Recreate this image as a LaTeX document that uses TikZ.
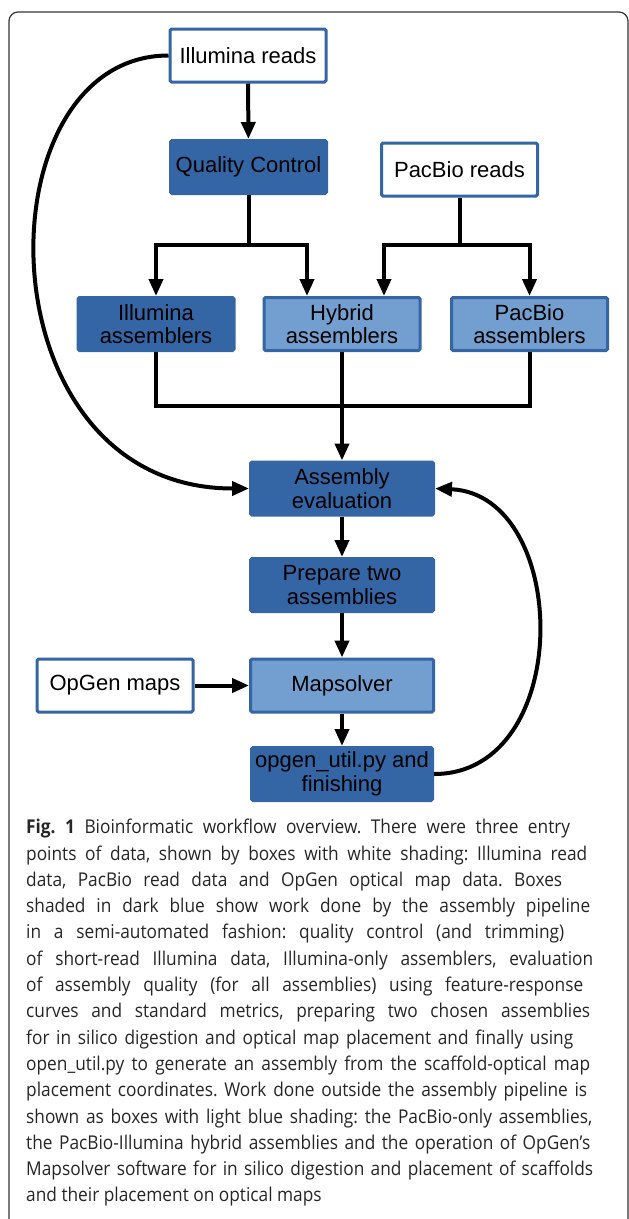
\documentclass[tikz,border=0pt]{standalone}
\usepackage{fontspec}
\setmainfont{Open Sans}[FakeStretch=0.91]
\newfontfamily\boxfont{Liberation Sans}
\usetikzlibrary{arrows.meta}
\definecolor{darkblue}{HTML}{3465A4}
\definecolor{lightblue}{HTML}{729FCF}
\newcommand{\capline}[2]{\makebox[#1pt][s]{#2}\\}
\frenchspacing

\begin{document}
\begin{tikzpicture}[x=1pt, y=-1pt,
    box/.style={rectangle, rounded corners=1.5pt, minimum width=156pt, minimum height=53pt, inner sep=0pt, align=center, font=\boxfont\fontsize{22}{23.5}\selectfont, line width=3pt},
    entry/.style={box, draw=darkblue, fill=white},
    pipe/.style={box, draw=darkblue, fill=darkblue},
    outside/.style={box, draw=darkblue, fill=lightblue},
    link/.style={line width=4pt},
    arr/.style={link, -{Triangle[length=17pt, width=14pt]}}]
        \useasboundingbox (0,0) rectangle (629,1219);
        \clip (0,0) rectangle (629,1219);

        % Frame
        \draw[line width=1.2pt, black!80, rounded corners=9pt] (9,12) rectangle (628,1234);

        % Nodes
        \node[entry] (ill) at (248, 55.5) {Illumina reads};
        \node[pipe] (qc) at (248.5, 167) {Quality Control};
        \node[entry] (pb) at (459.5, 169.5) {PacBio reads};
        \node[pipe] (illasm) at (156, 324) {Illumina\\assemblers};
        \node[outside] (hyb) at (342, 324) {Hybrid\\assemblers};
        \node[outside] (pbasm) at (529.5, 324) {PacBio\\assemblers};
        \node[pipe, minimum width=183pt] (eval) at (342, 488.5) {Assembly\\evaluation};
        \node[pipe, minimum width=183pt] (prep) at (342, 585) {Prepare two\\assemblies};
        \node[outside, minimum width=183pt] (msolv) at (342, 685.5) {Mapsolver};
        \node[entry] (opgen) at (115, 685.5) {OpGen maps};
        \node[pipe, minimum width=181pt] (fin) at (342, 774) {opgen\_util.py and\\finishing};

        \coordinate (qcsplit) at (248.5, 245);
        \coordinate (pbsplit) at (459.5, 245);
        \coordinate (merge) at (342, 406);

        % Edges
        \draw[arr] (ill) -- (qc);
        \draw[link] (qc.south) -- (qcsplit);
        \draw[arr] (qcsplit) -| (illasm.north);
        \draw[arr] (qcsplit) -| ([xshift=-35pt]hyb.north);
        \draw[link] (pb.south) -- (pbsplit);
        \draw[arr] (pbsplit) -| ([xshift=42pt]hyb.north);
        \draw[arr] (pbsplit) -| (pbasm.north);
        \draw[link] (illasm.south) -- (illasm.south |- merge) -- (pbasm.south |- merge) -- (pbasm.south);
        \draw[arr] (hyb.south) -- (eval.north);
        \draw[arr] (eval) -- (prep);
        \draw[arr] (prep) -- (msolv);
        \draw[arr] (opgen) -- (msolv);
        \draw[arr] (msolv) -- (fin);

        % Loops back to the evaluation
        \draw[arr] (ill.west) .. controls +(-190,0) and +(-270,0) .. (eval.west);
        \draw[arr] (fin.east) .. controls +(141,0) and +(136,6) .. (eval.east);

        % Caption
        \node[anchor=north west, align=left, inner sep=0pt, text=black!85, font=\fontsize{19}{26.3}\selectfont] (cap) at (26, 819)
        {\capline{544}{\textbf{Fig. 1} Bioinformatic workflow overview. There were three entry}
        \capline{561}{points of data, shown by boxes with white shading: Illumina read}
        \capline{536}{data, PacBio read data and OpGen optical map data. Boxes}
        \capline{564}{shaded in dark blue show work done by the assembly pipeline}
        \capline{538}{in a semi-automated fashion: quality control (and trimming)}
        \capline{567}{of short-read Illumina data, Illumina-only assemblers, evaluation}
        \capline{557}{of assembly quality (for all assemblies) using feature-response}
        \capline{564}{curves and standard metrics, preparing two chosen assemblies}
        \capline{547}{for in silico digestion and optical map placement and finally using}
        \capline{564}{open\_util.py to generate an assembly from the scaffold-optical map}
        \capline{561}{placement coordinates. Work done outside the assembly pipeline is}
        \capline{566}{shown as boxes with light blue shading: the PacBio-only assemblies,}
        \capline{564}{the PacBio-Illumina hybrid assemblies and the operation of OpGen’s}
        \capline{567}{Mapsolver software for in silico digestion and placement of scaffolds}
        and their placement on optical maps};
    \end{tikzpicture}
\end{document}
